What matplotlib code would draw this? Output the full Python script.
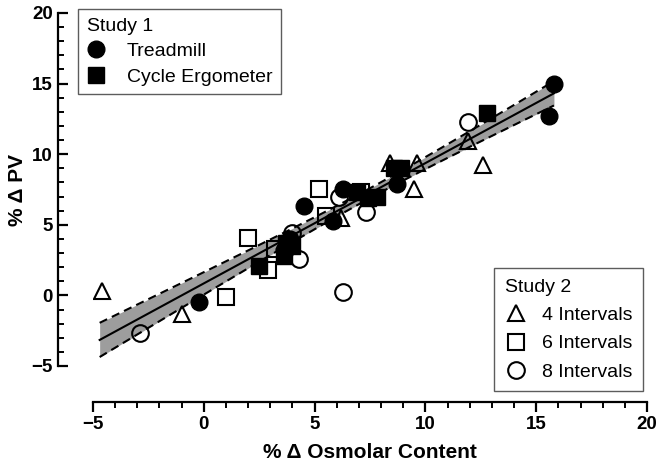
import matplotlib
matplotlib.use("Agg")
import matplotlib.pyplot as plt
import numpy as np
from matplotlib.ticker import MultipleLocator
from matplotlib.lines import Line2D

plt.rcParams['font.family'] = ['Liberation Sans', 'DejaVu Sans']

# ---- data ----
treadmill_x = [-0.2, 3.6, 3.9, 4.5, 5.85, 6.3, 8.7, 15.6, 15.8]
treadmill_y = [-0.45, 3.2, 4.0, 6.35, 5.3, 7.5, 7.9, 12.7, 15.0]

cycle_x = [2.5, 3.6, 3.7, 4.0, 6.9, 7.4, 7.8, 8.6, 8.9, 12.8]
cycle_y = [2.05, 2.8, 3.7, 3.5, 7.3, 6.9, 7.0, 9.0, 9.0, 12.9]

int4_x = [-4.6, -1.0, 6.2, 8.4, 9.5, 9.6, 11.9, 12.6]
int4_y = [0.3, -1.3, 5.5, 9.4, 7.5, 9.4, 10.9, 9.2]

int6_x = [1.0, 2.0, 2.9, 3.2, 5.2, 5.5, 7.1]
int6_y = [-0.1, 4.1, 1.8, 3.3, 7.5, 5.6, 7.3]

int8_x = [-2.9, 4.0, 4.3, 6.3, 6.1, 7.3, 11.9]
int8_y = [-2.65, 4.4, 2.6, 0.25, 7.0, 5.9, 12.3]

# regression line and 95% confidence band
fit_slope = 0.852
fit_intercept = 0.85
fit_xrange = [-4.7, 15.8]
ci_center_x = 7.5
ci_min_half = 0.35
ci_spread = 0.095

x_ticks = [-5, 0, 5, 10, 15, 20]
y_ticks = [-5, 0, 5, 10, 15, 20]

# ---- figure ----
fig = plt.figure(figsize=(6.6, 4.71), dpi=100)
ax = fig.add_axes([93/660, 105/471, 554/660, 353/471])

xf = np.linspace(fit_xrange[0], fit_xrange[1], 200)
yf = fit_slope * xf + fit_intercept
half = np.sqrt(ci_min_half**2 + (ci_spread * (xf - ci_center_x))**2)
ax.fill_between(xf, yf - half, yf + half, color='#9d9d9d', lw=0, zorder=1)
ax.plot(xf, yf, color='black', lw=1.5, zorder=2)
ax.plot(xf, yf + half, color='black', lw=1.5, ls=(0, (4, 2.5)), zorder=2)
ax.plot(xf, yf - half, color='black', lw=1.5, ls=(0, (4, 2.5)), zorder=2)

ms = 12
mew = 1.5
ax.plot(int4_x, int4_y, ls='none', marker='^', ms=ms, mfc='none', mec='black', mew=mew, zorder=3)
ax.plot(int6_x, int6_y, ls='none', marker='s', ms=ms, mfc='none', mec='black', mew=mew, zorder=3)
ax.plot(int8_x, int8_y, ls='none', marker='o', ms=ms, mfc='none', mec='black', mew=mew, zorder=3)
ax.plot(treadmill_x, treadmill_y, ls='none', marker='o', ms=ms, mfc='black', mec='black', zorder=4)
ax.plot(cycle_x, cycle_y, ls='none', marker='s', ms=ms, mfc='black', mec='black', zorder=4)

ax.set_xlim(-5, 20)
ax.set_ylim(-5, 20)
ax.set_xticks(x_ticks)
ax.set_yticks(y_ticks)
ax.xaxis.set_minor_locator(MultipleLocator(1))
ax.yaxis.set_minor_locator(MultipleLocator(1))

for s in ['top', 'right']:
    ax.spines[s].set_visible(False)
ax.spines['left'].set_position(('outward', 25))
ax.spines['bottom'].set_position(('outward', 26))
for s in ['left', 'bottom']:
    ax.spines[s].set_linewidth(1.6)

ax.tick_params(axis='x', which='major', length=7, width=1.6, direction='out', labelsize=13.5, pad=3)
ax.tick_params(axis='x', which='minor', length=4, width=1.4, direction='out')
ax.tick_params(axis='y', which='major', length=7, width=1.6, direction='in', labelsize=13.5, pad=4)
ax.tick_params(axis='y', which='minor', length=4, width=1.4, direction='in')
for lab in ax.get_xticklabels() + ax.get_yticklabels():
    lab.set_fontweight('bold')

ax.set_xlabel('% Δ Osmolar Content', fontsize=15, fontweight='bold', labelpad=7)
ax.set_ylabel('% Δ PV', fontsize=15, fontweight='bold', labelpad=3)

# legends
h1 = [Line2D([], [], ls='none', marker='o', ms=ms, mfc='black', mec='black'),
      Line2D([], [], ls='none', marker='s', ms=ms, mfc='black', mec='black')]
leg1 = fig.legend(h1, ['Treadmill', 'Cycle Ergometer'], title='Study 1',
                  loc='upper left', bbox_to_anchor=(78/660, 1 - 9/471),
                  fontsize=14, title_fontsize=14, alignment='left',
                  frameon=True, fancybox=False, edgecolor='#333333',
                  handlelength=1.0, handletextpad=1.05, labelspacing=0.4,
                  borderpad=0.45, borderaxespad=0)
leg1.get_frame().set_linewidth(1.0)

h2 = [Line2D([], [], ls='none', marker='^', ms=ms, mfc='none', mec='black', mew=mew),
      Line2D([], [], ls='none', marker='s', ms=ms, mfc='none', mec='black', mew=mew),
      Line2D([], [], ls='none', marker='o', ms=ms, mfc='none', mec='black', mew=mew)]
leg2 = fig.legend(h2, ['4 Intervals', '6 Intervals', '8 Intervals'], title='Study 2',
                  loc='upper left', bbox_to_anchor=(494/660, 1 - 268/471),
                  fontsize=14, title_fontsize=14, alignment='left',
                  frameon=True, fancybox=False, edgecolor='#333333',
                  handlelength=1.2, handletextpad=0.7, labelspacing=0.55,
                  borderpad=0.55, borderaxespad=0)
leg2.get_frame().set_linewidth(1.0)

fig.savefig('out.png', dpi=100)
